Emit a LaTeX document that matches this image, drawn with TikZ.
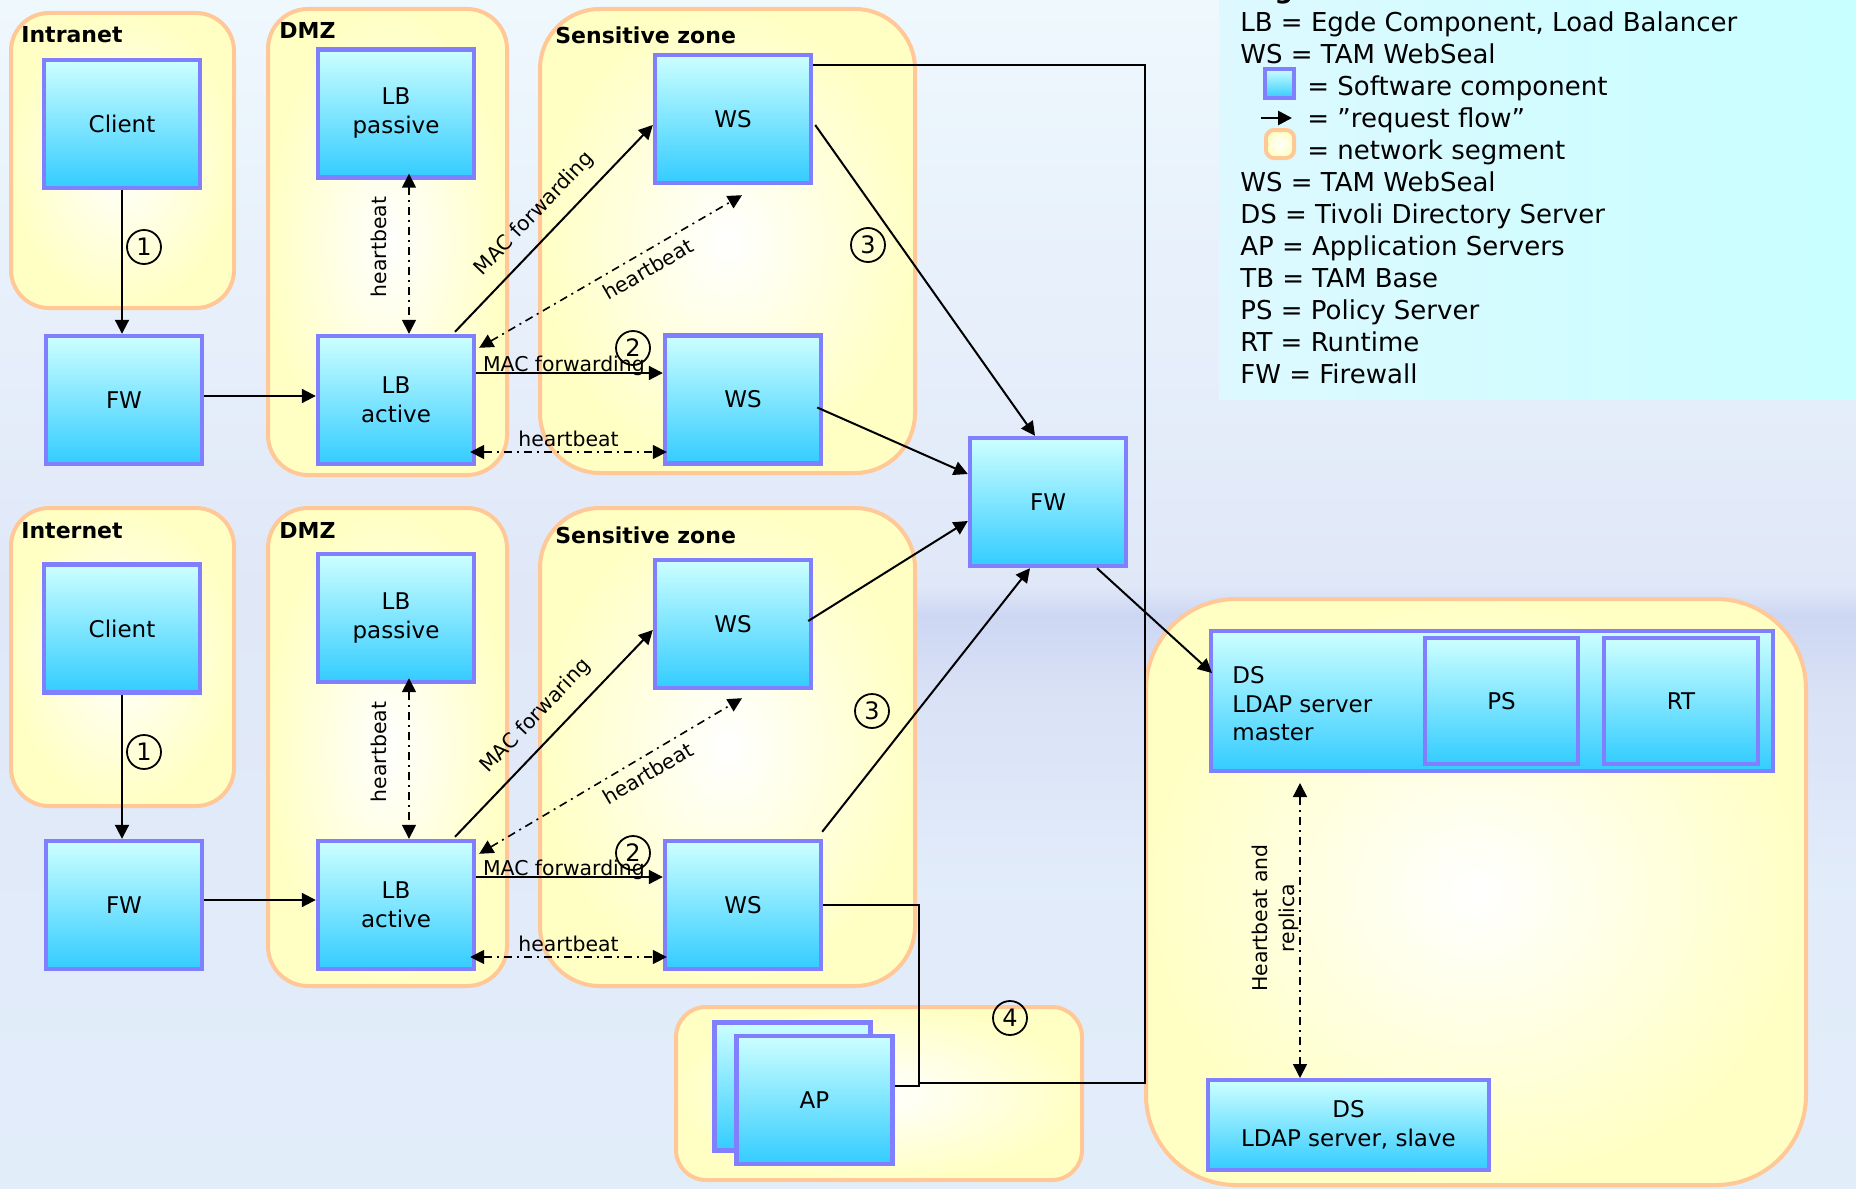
\documentclass[tikz,border=0pt]{standalone}
\usepackage{fontspec}
\setmainfont{DejaVu Sans}
\usetikzlibrary{arrows.meta,calc}
\definecolor{segborder}{HTML}{FFC896}
\definecolor{segfill}{HTML}{FFFFC4}
\definecolor{compborder}{HTML}{8080FF}
\definecolor{comptop}{HTML}{CCFFFF}
\definecolor{compbot}{HTML}{33CCFF}
\definecolor{legleft}{HTML}{DDF9FF}
\definecolor{legright}{HTML}{C8FFFF}
\definecolor{bgtop}{HTML}{EEF8FD}
\definecolor{bgmid}{HTML}{E0E8F8}
\definecolor{bgband}{HTML}{CDD7F3}
\definecolor{bgtown}{HTML}{DAE2F6}
\definecolor{bgbot}{HTML}{E2EDFA}
\begin{document}
\begin{tikzpicture}[x=0.5pt,y=-0.5pt,
  seg/.style={draw=segborder,line width=2pt,inner color=white,outer color=segfill},
  comp/.style={draw=compborder,line width=2.2pt,top color=comptop,bottom color=compbot,
     minimum width=78pt,minimum height=64pt,inner sep=0pt,align=center,
     font=\fontsize{11.5}{14.5}\selectfont},
  segtitle/.style={anchor=base west,inner sep=0pt,font=\fontsize{11}{13}\selectfont\bfseries},
  legtxt/.style={anchor=base west,inner sep=0pt,font=\fontsize{13}{15}\selectfont},
  lbl/.style={inner sep=1.5pt,font=\fontsize{10.2}{12}\selectfont},
  num/.style={circle,draw,line width=0.9pt,minimum size=17pt,inner sep=0pt,font=\fontsize{12}{12}\selectfont},
  flow/.style={line width=1pt,-{Triangle[length=7pt,width=7pt]}},
  conn/.style={line width=1pt},
  hb/.style={line width=0.8pt,dash pattern=on 4pt off 2.5pt on 1pt off 2.5pt,
     {Triangle[length=7pt,width=7pt]}-{Triangle[length=7pt,width=7pt]}},
]
% background
\shade[top color=bgtop,bottom color=bgmid] (0,0) rectangle (1856,590);
\shade[top color=bgmid,bottom color=bgbot] (0,589) rectangle (1856,1188);
\shade[top color=bgmid,bottom color=bgband] (917,585) rectangle (1856,615);
\shade[top color=bgband,bottom color=bgtown] (917,614) rectangle (1856,700);
\shade[top color=bgtown,bottom color=bgbot] (917,699) rectangle (1856,900);
\useasboundingbox (0,0) rectangle (1856,1188);

% legend background
\fill[left color=legleft,right color=legright] (1219,0) rectangle (1856,399);

% network segments
\draw[seg,rounded corners=19pt] (11,13) rectangle (234,308);
\draw[seg,rounded corners=20pt] (268,9) rectangle (507,475);
\draw[seg,rounded corners=30pt] (540,9) rectangle (915,473);
\draw[seg,rounded corners=19pt] (11,508) rectangle (234,806);
\draw[seg,rounded corners=20pt] (268,508) rectangle (507,986);
\draw[seg,rounded corners=30pt] (540,508) rectangle (915,986);
\draw[seg,rounded corners=15pt] (676,1007) rectangle (1082,1180);
\draw[seg,rounded corners=45pt] (1146,599) rectangle (1806,1185);

% segment titles
\node[segtitle] (t1) at (21,43) {Intranet};
\node[segtitle] (t2) at (279,39) {DMZ};
\node[segtitle] (t3) at (555,44) {Sensitive zone};
\node[segtitle] (t4) at (21,538) {Internet};
\node[segtitle] (t5) at (279,538) {DMZ};
\node[segtitle] (t6) at (555,543) {Sensitive zone};

% components
\node[comp] (client1) at (122,124) {Client};
\node[comp] (fw1) at (124,400) {FW};
\node[comp] (lbp1) at (396,113.5) {LB\\passive};
\node[comp] (lba1) at (396,400) {LB\\active};
\node[comp] (ws1a) at (733,119) {WS};
\node[comp] (ws1b) at (743,399.5) {WS};
\node[comp] (fwc) at (1048,502) {FW};
\node[comp] (client2) at (122,628.5) {Client};
\node[comp] (fw2) at (124,905) {FW};
\node[comp] (lbp2) at (396,618) {LB\\passive};
\node[comp] (lba2) at (396,905) {LB\\active};
\node[comp] (ws2a) at (733,624) {WS};
\node[comp] (ws2b) at (743,905) {WS};
\node[comp] (apb) at (792.5,1086.5) {};
\node[comp] (apf) at (814.5,1100) {AP};
\node[comp,minimum width=280.8pt,minimum height=69.8pt] (dsm) at (1492,701) {};
\node[anchor=west,inner sep=0pt,align=left,font=\fontsize{11.5}{14.25}\selectfont] (dsmtext) at (1232,704) {DS\\LDAP server\\master};
\node[comp,minimum width=76.3pt,minimum height=62.8pt] (ps) at (1501.5,701) {PS};
\node[comp,minimum width=76.8pt,minimum height=62.8pt] (rt) at (1681,701) {RT};
\node[comp,minimum width=140.3pt,minimum height=44.8pt] (dss) at (1348.5,1125) {DS\\LDAP server, slave};

% upper path
\draw[flow] (client1.south) -- (client1.south |- fw1.north);
\draw[flow] ($(fw1.east)+(0,-4)$) -- ($(lba1.west)+(0,-4)$);
\draw[hb] ($(lbp1.south)+(13,-6)$) -- ($(lba1.north)+(13,0)$);
\node[lbl,rotate=90] (hbl1) at (379,247) {heartbeat};
\draw[flow] ($(lba1.north)+(59,-2)$) -- ($(ws1a.west)+(0,6)$)
   node[lbl,pos=0.49,above=5pt,sloped] (macd1) {MAC forwarding};
\draw[hb] ($(lba1.north east)+(3,14)$) -- ($(ws1a.south)+(9,10)$)
   node[lbl,pos=0.61,below=2.5pt,sloped] (hbd1) {heartbeat};
\draw[flow] ($(lba1.east)+(0,-27)$) -- ($(ws1b.west)+(0,-26.5)$)
   node[lbl,pos=0.47,anchor=base,yshift=1pt] (mach1) {MAC forwarding};
\draw[hb] ($(lba1.east)+(-6,52)$) -- ($(ws1b.west)+(4,52.5)$)
   node[lbl,midway,anchor=base,yshift=3pt] (hbh1) {heartbeat};
\draw[flow] ($(ws1a.east)+(2,6)$) -- ($(fwc.north)+(-13,0)$);
\draw[flow] ($(ws1b.east)+(-6,8)$) -- ($(fwc.west)+(0,-28)$);

% lower path
\draw[flow] (client2.south) -- (client2.south |- fw2.north);
\draw[flow] ($(fw2.east)+(0,-5)$) -- ($(lba2.west)+(0,-5)$);
\draw[hb] ($(lbp2.south)+(13,-6)$) -- ($(lba2.north)+(13,0)$);
\node[lbl,rotate=90] (hbl2) at (379,752) {heartbeat};
\draw[flow] ($(lba2.north)+(59,-2)$) -- ($(ws2a.west)+(0,6)$)
   node[lbl,pos=0.50,above=5.5pt,sloped] (macd2) {MAC forwaring};
\draw[hb] ($(lba2.north east)+(3,15)$) -- ($(ws2a.south)+(9,8)$)
   node[lbl,pos=0.61,below=2.5pt,sloped] (hbd2) {heartbeat};
\draw[flow] ($(lba2.east)+(0,-28)$) -- ($(ws2b.west)+(0,-28)$)
   node[lbl,pos=0.47,anchor=base,yshift=1pt] (mach2) {MAC forwarding};
\draw[hb] ($(lba2.east)+(-6,52)$) -- ($(ws2b.west)+(4,52)$)
   node[lbl,midway,anchor=base,yshift=3pt] (hbh2) {heartbeat};
\draw[flow] ($(ws2a.east)+(-5,-3)$) -- ($(fwc.west)+(0,19)$);
\draw[flow] ($(ws2b.north east)+(-1,-7)$) -- ($(fwc.south)+(-18,0)$);

% to directory and application servers
\draw[flow] ($(fwc.south)+(49,0)$) -- ($(dsm.west)+(3,-28)$);
\draw[conn] ($(ws1a.east)+(0,-54)$) -| ($(apf.east)+(250,-17)$) -- ($(apf.east)+(24,-17)$);
\draw[conn] (ws2b.east) -| ($(apf.east)+(24,-14)$) -- ($(apf.east)+(0,-14)$);
\draw[hb] ($(dsm.south west)+(91,10)$) -- ($(dss.north west)+(94,0)$);
\node[lbl,rotate=90,align=center,font=\fontsize{10.2}{13.5}\selectfont] (hbrep) at (1275,918) {Heartbeat and\\replica};

% step numbers
\node[num] (c1a) at (144,247) {1};
\node[num] (c1b) at (144,752) {1};
\node[num] (c2a) at (633,348) {2};
\node[num] (c2b) at (633,853) {2};
\node[num] (c3a) at (868,245) {3};
\node[num] (c3b) at (872,711) {3};
\node[num] (c4) at (1010,1018) {4};

% legend
\node[legtxt,font=\fontsize{13}{15}\selectfont\bfseries] (leghead) at (1240,-1) {Legend};
\node[legtxt] (leg1) at (1240,31.7) {LB = Egde Component, Load Balancer};
\node[legtxt] (leg2) at (1240,63.5) {WS = TAM WebSeal};
\node[comp,minimum width=14.5pt,minimum height=14.5pt,line width=2pt] (legcomp) at (1279.5,83.5) {};
\node[legtxt] (leg3) at (1307,95.5) {= Software component};
\coordinate (legarrA) at (1261,118);
\coordinate (legarrB) at (1292,118);
\draw[flow,line width=1.3pt] (legarrA) -- (legarrB);
\node[legtxt] (leg4) at (1307,127.5) {= ”request flow”};
\node[seg,rounded corners=4pt,minimum size=14pt,inner sep=0pt] (legseg) at (1280,144) {};
\node[legtxt] (leg5) at (1307,159.5) {= network segment};
\node[legtxt] (leg6) at (1240,191.5) {WS = TAM WebSeal};
\node[legtxt] (leg7) at (1240,223.3) {DS = Tivoli Directory Server};
\node[legtxt] (leg8) at (1240,255.2) {AP = Application Servers};
\node[legtxt] (leg9) at (1240,287) {TB = TAM Base};
\node[legtxt] (leg10) at (1240,319) {PS = Policy Server};
\node[legtxt] (leg11) at (1240,351) {RT = Runtime};
\node[legtxt] (leg12) at (1240,383) {FW = Firewall};
\end{tikzpicture}
\end{document}
